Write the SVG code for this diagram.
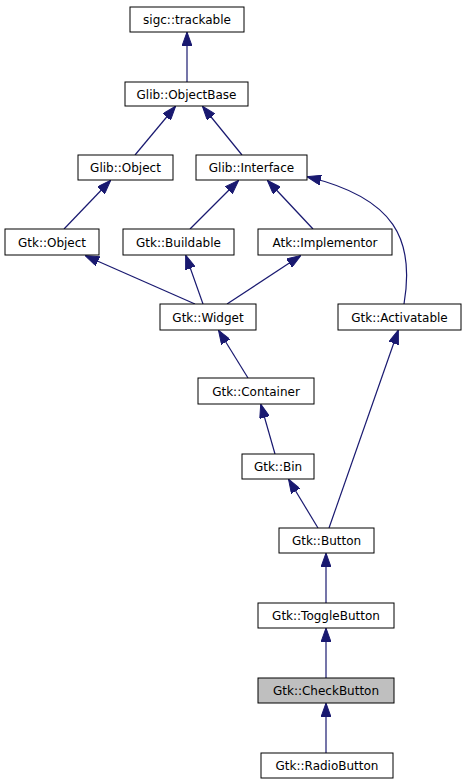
<svg xmlns="http://www.w3.org/2000/svg" width="467" height="784" viewBox="0 0 467 784">
<style>
.n rect{fill:#fff;stroke:#000;stroke-width:1}
.n.hl rect{fill:#bfbfbf}
.n text{font-family:"DejaVu Sans",sans-serif;font-size:12px;text-anchor:middle;fill:#000}
.e path{fill:none;stroke:#191970;stroke-width:1.2;marker-end:url(#a)}
</style>
<defs>
<marker id="a" viewBox="0 0 14 10" refX="13" refY="5" markerWidth="14" markerHeight="10" markerUnits="userSpaceOnUse" orient="auto">
<path d="M0,0 L14,5 L0,10 z" fill="#191970" stroke="#191970" stroke-width="1"/>
</marker>
</defs>
<rect width="467" height="784" fill="#fff"/>
<g class="e">
<path d="M187,82 L187,33"/>
<path d="M135,155 L175,107"/>
<path d="M242,155 L203,107"/>
<path d="M64,229 L110,181"/>
<path d="M190,229 L238,181"/>
<path d="M313,229 L268,181"/>
<path d="M404,304 C415,240 395,198 308,177"/>
<path d="M195,304 L86,256"/>
<path d="M203,304 L186,256"/>
<path d="M227,304 L300,256"/>
<path d="M248,378 L219,331"/>
<path d="M275,454 L261,405"/>
<path d="M318,528 L289,480"/>
<path d="M329,528 L398,331"/>
<path d="M326,603 L326,554"/>
<path d="M326,678 L326,629"/>
<path d="M326,753 L326,704"/>
</g>
<g id="sigc_trackable" class="n"><rect x="130" y="7" width="114" height="25"/><text x="187" y="24">sigc::trackable</text></g>
<g id="Glib_ObjectBase" class="n"><rect x="125" y="82" width="123" height="24"/><text x="186.5" y="98.5">Glib::ObjectBase</text></g>
<g id="Glib_Object" class="n"><rect x="78" y="155" width="95" height="25"/><text x="125.5" y="172">Glib::Object</text></g>
<g id="Glib_Interface" class="n"><rect x="196" y="155" width="111" height="25"/><text x="251.5" y="172">Glib::Interface</text></g>
<g id="Gtk_Object" class="n"><rect x="5" y="229" width="94" height="26"/><text x="52" y="246.5">Gtk::Object</text></g>
<g id="Gtk_Buildable" class="n"><rect x="123" y="229" width="111" height="26"/><text x="178.5" y="246.5">Gtk::Buildable</text></g>
<g id="Atk_Implementor" class="n"><rect x="258" y="229" width="134" height="26"/><text x="325" y="246.5">Atk::Implementor</text></g>
<g id="Gtk_Widget" class="n"><rect x="160" y="304" width="96" height="26"/><text x="208" y="321.5">Gtk::Widget</text></g>
<g id="Gtk_Activatable" class="n"><rect x="338" y="304" width="123" height="26"/><text x="399.5" y="321.5">Gtk::Activatable</text></g>
<g id="Gtk_Container" class="n"><rect x="198" y="378" width="116" height="26"/><text x="256" y="395.5">Gtk::Container</text></g>
<g id="Gtk_Bin" class="n"><rect x="242" y="454" width="72" height="25"/><text x="278" y="471">Gtk::Bin</text></g>
<g id="Gtk_Button" class="n"><rect x="279" y="528" width="95" height="25"/><text x="326.5" y="545">Gtk::Button</text></g>
<g id="Gtk_ToggleButton" class="n"><rect x="258" y="603" width="136" height="25"/><text x="326" y="620">Gtk::ToggleButton</text></g>
<g id="Gtk_CheckButton" class="n hl"><rect x="258" y="678" width="136" height="25"/><text x="326" y="695">Gtk::CheckButton</text></g>
<g id="Gtk_RadioButton" class="n"><rect x="261" y="753" width="132" height="25"/><text x="327" y="770">Gtk::RadioButton</text></g>
</svg>
